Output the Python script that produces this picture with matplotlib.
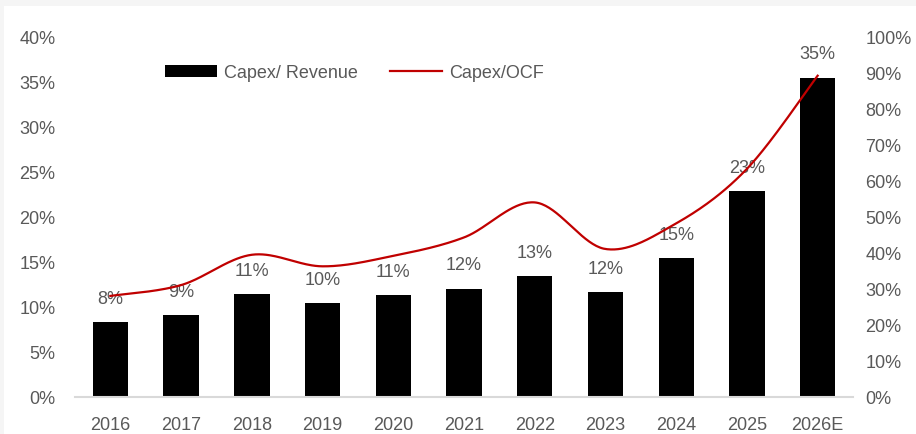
import numpy as np
import matplotlib.pyplot as plt
from matplotlib.patches import Rectangle
from matplotlib.ticker import FuncFormatter

plt.rcParams['font.family'] = ['Liberation Sans', 'DejaVu Sans']

years = ['2016', '2017', '2018', '2019', '2020', '2021', '2022', '2023', '2024', '2025', '2026E']
capex_rev = [8.3, 9.1, 11.4, 10.4, 11.3, 12.0, 13.4, 11.6, 15.4, 22.8, 35.4]   # %
bar_labels = ['8%', '9%', '11%', '10%', '11%', '12%', '13%', '12%', '15%', '23%', '35%']
capex_ocf = [28.0, 31.0, 39.4, 36.2, 39.1, 44.2, 53.9, 41.0, 48.1, 63.2, 89.0]  # %

grey = '#595959'
red = '#c00000'
fs = 13


def smooth(xs, ys, n=40):
    # catmull-rom style bezier, like a spreadsheet "smoothed line"
    p = np.column_stack([xs, ys]).astype(float)
    p = np.vstack([p[0], p, p[-1]])
    out = []
    for i in range(1, len(p) - 2):
        p0, p1, p2, p3 = p[i - 1], p[i], p[i + 1], p[i + 2]
        c1 = p1 + (p2 - p0) / 6
        c2 = p2 - (p3 - p1) / 6
        t = np.linspace(0, 1, n)[:, None]
        seg = ((1 - t) ** 3) * p1 + 3 * ((1 - t) ** 2) * t * c1 + 3 * (1 - t) * t ** 2 * c2 + t ** 3 * p2
        out.append(seg if i == 1 else seg[1:])
    out = np.vstack(out)
    return out[:, 0], out[:, 1]


fig = plt.figure(figsize=(9.16, 4.35), dpi=100, facecolor='#f5f5f5')
fig.patches.append(Rectangle((4 / 916, 0), 1, 1 - 7 / 435, transform=fig.transFigure,
                             facecolor='white', edgecolor='none', zorder=-10))
ax = fig.add_axes([75 / 916, 1 - 398 / 435, 778 / 916, 361 / 435])
ax.set_facecolor('none')

x = np.arange(len(years))
bars = ax.bar(x, capex_rev, width=0.5, color='black', label='Capex/ Revenue', zorder=2)
for xi, v, lab in zip(x, capex_rev, bar_labels):
    ax.annotate(lab, (xi, v), xytext=(0, 11), textcoords='offset points',
                ha='center', va='bottom', fontsize=fs, color=grey, zorder=5)

ax.set_xlim(-0.5, len(years) - 0.5)
ax.set_ylim(0, 40)
ax.set_yticks(np.arange(0, 41, 5))
ax.yaxis.set_major_formatter(FuncFormatter(lambda v, _: f'{v:.0f}%'))
ax.set_xticks(x)
ax.set_xticklabels(years)
ax.tick_params(axis='both', length=0, labelsize=fs, labelcolor=grey)
ax.tick_params(axis='x', pad=14)
ax.tick_params(axis='y', pad=14)
for s in ['top', 'right', 'left']:
    ax.spines[s].set_visible(False)
ax.spines['bottom'].set_color('#d9d9d9')
ax.spines['bottom'].set_linewidth(1.5)

ax2 = ax.twinx()
sx, sy = smooth(x, capex_ocf)
ax2.plot(sx, sy, color=red, lw=1.6, label='Capex/OCF', zorder=3)
ax2.set_ylim(0, 100)
ax2.set_yticks(np.arange(0, 101, 10))
ax2.yaxis.set_major_formatter(FuncFormatter(lambda v, _: f'{v:.0f}%'))
ax2.tick_params(axis='y', length=0, labelsize=fs, labelcolor=grey, pad=9)
for s in ['top', 'right', 'left', 'bottom']:
    ax2.spines[s].set_visible(False)

h1, l1 = ax.get_legend_handles_labels()
h2, l2 = ax2.get_legend_handles_labels()
leg = ax2.legend(h1 + h2, l1 + l2, ncol=2, frameon=False, fontsize=fs,
                 loc='center', bbox_to_anchor=(0.359, 0.898),
                 handlelength=2.9, handleheight=0.6, handletextpad=0.35, columnspacing=1.8)
for t in leg.get_texts():
    t.set_color(grey)

fig.savefig('out.png', dpi=100, facecolor=fig.get_facecolor())
